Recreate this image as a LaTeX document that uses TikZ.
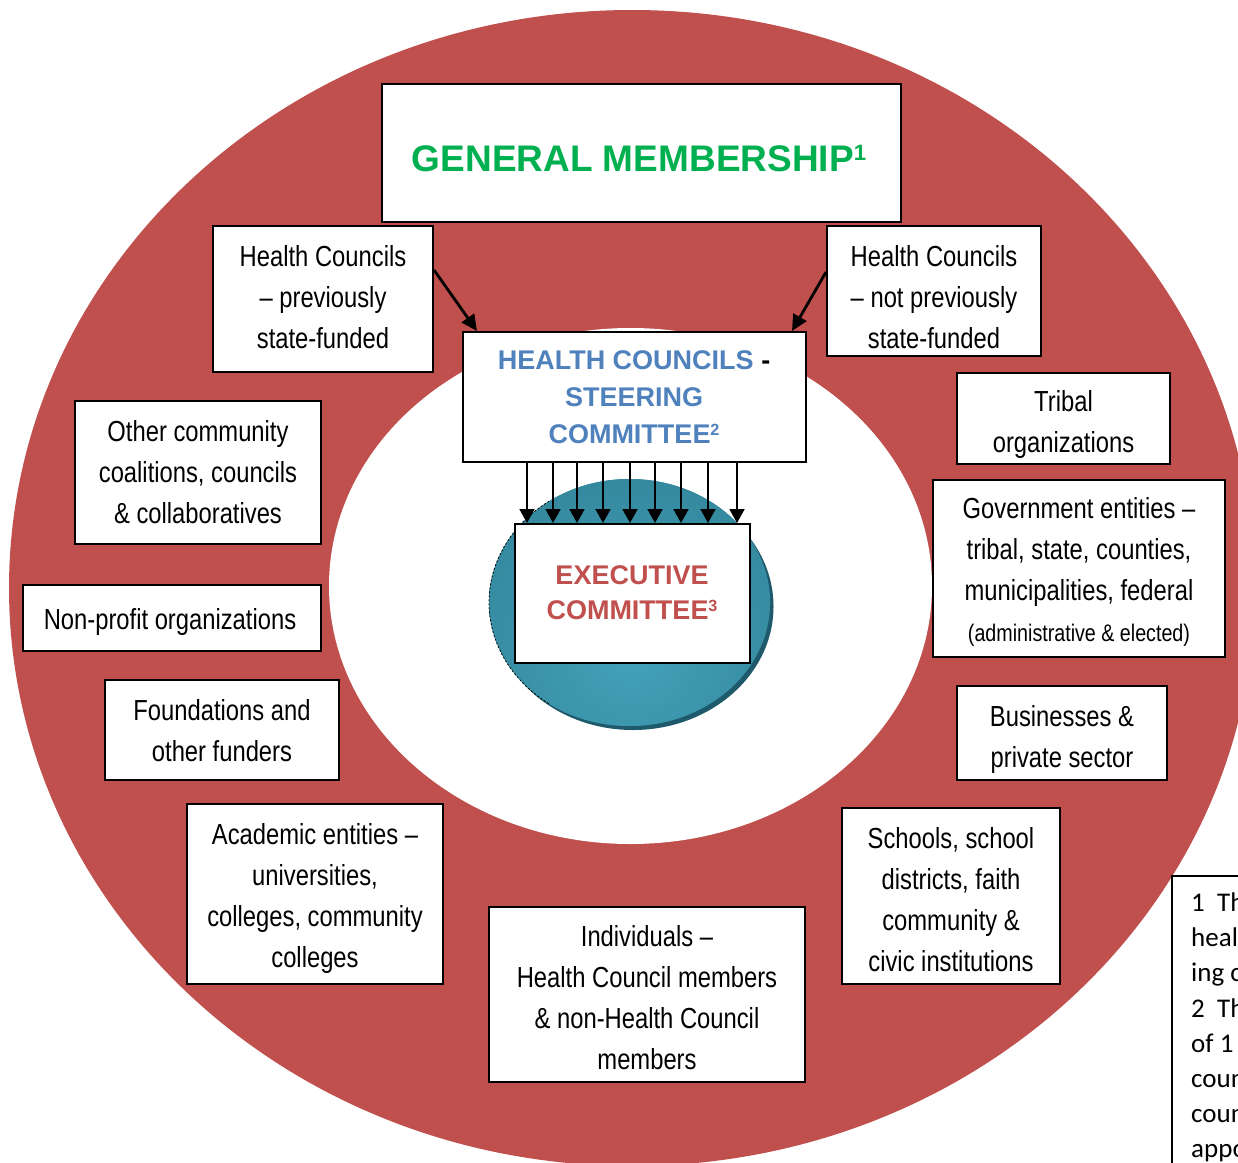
\documentclass[tikz,border=0pt]{standalone}
\usepackage{fontspec}
\setmainfont{Liberation Sans}
\newfontfamily\narrowfont[FakeStretch=0.82]{Liberation Sans}
\newfontfamily\notefont{Carlito}
\usetikzlibrary{arrows.meta}

\definecolor{ringred}{HTML}{C0504D}
\definecolor{memgreen}{HTML}{00B050}
\definecolor{steerblue}{HTML}{4F81BD}
\definecolor{tealdark}{HTML}{2D7C90}
\definecolor{teallight}{HTML}{43A2BA}
\definecolor{tealshadow}{HTML}{1E5A6B}

% small raised note marker, top aligned with the capitals
\newcommand\notemark[1]{\raisebox{0.29em}{\scalebox{0.6}{#1}}}

\begin{document}
\begin{tikzpicture}[x=1pt,y=-1pt,
  box/.style={draw=black, line width=2pt, fill=white, inner sep=0pt},
  lbl/.style={font=\narrowfont\fontsize{29}{41}\selectfont, align=center,
    inner sep=0pt, execute at begin node=\strut, execute at end node=\strut},
  headline/.style={font=\bfseries\fontsize{27}{37}\selectfont, align=center, inner sep=0pt},
  tarr/.style={line width=2.8pt, -{Triangle[length=16pt,width=15pt]}},
  darr/.style={line width=1.8pt, -{Triangle[length=14pt,width=15pt]}}
]
\useasboundingbox (0,0) rectangle (1238,1162);

% outer ring and inner clearing
\fill[ringred] (632,588) ellipse [x radius=623, y radius=578];
\fill[white] (630.5,586) ellipse [x radius=301.5, y radius=258];

% central disc with its shadow
\fill[tealshadow] (633,606.5) ellipse [x radius=140.5, y radius=123.5];
\fill[tealdark] (629.5,602.5) ellipse [x radius=140.5, y radius=123.5];
\begin{scope}
  \clip (629.5,602.5) ellipse [x radius=140.5, y radius=123.5];
  \shade[inner color=teallight, outer color=tealdark] (632,650) circle [radius=260];
\end{scope}
\draw[black, line width=0.8pt, dash pattern=on 2pt off 2pt]
  (629.5,602.5) ++(125:140.5 and 123.5) arc [start angle=125, end angle=235, x radius=140.5, y radius=123.5];

% boxes
\node[box, minimum width=519pt, minimum height=138pt] (gm) at (641.5,152.5) {};
\node[box, minimum width=220pt, minimum height=146pt] (hcp) at (323,299) {};
\node[box, minimum width=214pt, minimum height=130pt] (hcn) at (934,291) {};
\node[box, minimum width=343pt, minimum height=130pt] (st) at (634,397) {};
\node[box, minimum width=235pt, minimum height=139pt] (ex) at (632,593.5) {};
\node[box, minimum width=213pt, minimum height=91pt] (tr) at (1063.5,418.5) {};
\node[box, minimum width=292pt, minimum height=177pt] (gv) at (1079,568.5) {};
\node[box, minimum width=210pt, minimum height=94pt] (bu) at (1062,733) {};
\node[box, minimum width=218pt, minimum height=176pt] (sc) at (951,896) {};
\node[box, minimum width=316pt, minimum height=175pt] (indiv) at (647,994.5) {};
\node[box, minimum width=256pt, minimum height=180pt] (ac) at (315,894) {};
\node[box, minimum width=234pt, minimum height=100pt] (fo) at (222,730) {};
\node[box, minimum width=298pt, minimum height=66pt] (np) at (172,618) {};
\node[box, minimum width=246pt, minimum height=143pt] (oc) at (198,472.5) {};

% titles
\node[font=\bfseries\fontsize{37}{44}\selectfont, text=memgreen, inner sep=0pt] (gmt)
  at (639,158.5) {GENERAL MEMBERSHIP\notemark{1}};
\node[headline, text=steerblue] (stt) at (634,397)
  {HEALTH COUNCILS \textcolor{black}{-}\\STEERING\\COMMITTEE\notemark{2}};
\node[headline, text=ringred, font=\bfseries\fontsize{27}{35}\selectfont] (ext) at (632,592.5)
  {EXECUTIVE\\COMMITTEE\notemark{3}};

% member groups
\node[lbl] (hcpt) at (323,303) {Health Councils\\– previously\\state-funded};
\node[lbl] (hcnt) at (934,303) {Health Councils\\– not previously\\state-funded};
\node[lbl] (trt) at (1063.5,428) {Tribal\\organizations};
\node[lbl] (gvt) at (1079,576) {Government entities –\\tribal, state, counties,\\municipalities, federal\\{\fontsize{24}{41}\selectfont (administrative \& elected)}};
\node[lbl] (but) at (1062,743) {Businesses \&\\private sector};
\node[lbl] (sct) at (951,905.5) {Schools, school\\districts, faith\\community \&\\civic institutions};
\node[lbl] (indivt) at (647,1003.5) {Individuals –\\Health Council members\\\& non-Health Council\\members};
\node[lbl] (act) at (315,901.5) {Academic entities –\\universities,\\colleges, community\\colleges};
\node[lbl] (fot) at (222,737) {Foundations and\\other funders};
\node[lbl] (npt) at (170,621.5) {Non-profit organizations};
\node[lbl] (oct) at (198,478.5) {Other community\\coalitions, councils\\\& collaboratives};

% connectors
\draw[tarr] (hcp.east |- 0,270) -- (st.north -| 477,0);
\draw[tarr] (hcn.west |- 0,272) -- (st.north -| 792,0);
\foreach \x in {527,553,577,603,630,655,681,708,737}
  \draw[darr] (st.south -| \x,0) -- (ex.north -| \x,0);

% notes panel
\node[draw=black, line width=1.5pt, fill=white, minimum width=120pt, minimum height=320pt,
  anchor=north west, inner sep=0pt] (fn) at (1171,875) {};
\node[font=\notefont\fontsize{27}{35.2}\selectfont, align=left, anchor=north west,
  inner sep=0pt, execute at begin node=\strut] (fnt) at (1191,892.5)
  {1~~Th\\heal\\ing c\\2~~Th\\of 1\\coun\\coun\\appo};
\end{tikzpicture}
\end{document}
